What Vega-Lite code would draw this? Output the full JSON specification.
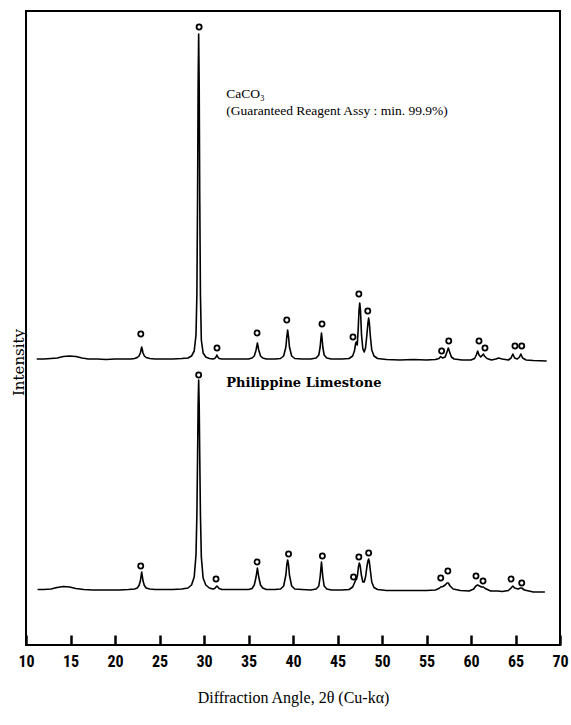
{
  "$schema": "https://vega.github.io/schema/vega-lite/v6.json",
  "width": 534,
  "height": 634,
  "autosize": {"type": "none"},
  "padding": {"left": 26, "top": 11, "right": 11, "bottom": 80},
  "background": "white",
  "config": {
    "view": {"stroke": "black", "strokeWidth": 2},
    "axis": {"grid": false}
  },
  "datasets": {
    "trace": [
      {"pattern": "CaCO3", "angle": 11.2, "intensity": 286},
      {"pattern": "CaCO3", "angle": 12.0, "intensity": 286},
      {"pattern": "CaCO3", "angle": 12.8, "intensity": 286.5},
      {"pattern": "CaCO3", "angle": 13.5, "intensity": 287},
      {"pattern": "CaCO3", "angle": 14.2, "intensity": 288.5},
      {"pattern": "CaCO3", "angle": 14.9, "intensity": 289},
      {"pattern": "CaCO3", "angle": 15.6, "intensity": 288.5},
      {"pattern": "CaCO3", "angle": 16.3, "intensity": 287},
      {"pattern": "CaCO3", "angle": 17.0, "intensity": 286},
      {"pattern": "CaCO3", "angle": 18.0, "intensity": 286},
      {"pattern": "CaCO3", "angle": 19.0, "intensity": 285.5},
      {"pattern": "CaCO3", "angle": 20.0, "intensity": 286},
      {"pattern": "CaCO3", "angle": 21.0, "intensity": 286},
      {"pattern": "CaCO3", "angle": 21.8, "intensity": 286},
      {"pattern": "CaCO3", "angle": 22.2, "intensity": 286.5},
      {"pattern": "CaCO3", "angle": 22.5, "intensity": 287.5},
      {"pattern": "CaCO3", "angle": 22.7, "intensity": 289},
      {"pattern": "CaCO3", "angle": 22.85, "intensity": 292},
      {"pattern": "CaCO3", "angle": 22.95, "intensity": 296},
      {"pattern": "CaCO3", "angle": 23.0, "intensity": 298},
      {"pattern": "CaCO3", "angle": 23.05, "intensity": 296},
      {"pattern": "CaCO3", "angle": 23.15, "intensity": 292},
      {"pattern": "CaCO3", "angle": 23.3, "intensity": 289},
      {"pattern": "CaCO3", "angle": 23.5, "intensity": 287.5},
      {"pattern": "CaCO3", "angle": 23.9, "intensity": 286.5},
      {"pattern": "CaCO3", "angle": 24.5, "intensity": 286},
      {"pattern": "CaCO3", "angle": 25.5, "intensity": 286},
      {"pattern": "CaCO3", "angle": 26.5, "intensity": 286},
      {"pattern": "CaCO3", "angle": 27.5, "intensity": 286.5},
      {"pattern": "CaCO3", "angle": 28.2, "intensity": 287},
      {"pattern": "CaCO3", "angle": 28.6, "intensity": 289},
      {"pattern": "CaCO3", "angle": 28.9, "intensity": 294},
      {"pattern": "CaCO3", "angle": 29.1, "intensity": 310},
      {"pattern": "CaCO3", "angle": 29.2, "intensity": 350},
      {"pattern": "CaCO3", "angle": 29.28, "intensity": 450},
      {"pattern": "CaCO3", "angle": 29.34, "intensity": 560},
      {"pattern": "CaCO3", "angle": 29.4, "intensity": 611},
      {"pattern": "CaCO3", "angle": 29.46, "intensity": 560},
      {"pattern": "CaCO3", "angle": 29.52, "intensity": 450},
      {"pattern": "CaCO3", "angle": 29.6, "intensity": 350},
      {"pattern": "CaCO3", "angle": 29.7, "intensity": 305},
      {"pattern": "CaCO3", "angle": 29.9, "intensity": 292},
      {"pattern": "CaCO3", "angle": 30.2, "intensity": 288},
      {"pattern": "CaCO3", "angle": 30.6, "intensity": 286.5},
      {"pattern": "CaCO3", "angle": 31.0, "intensity": 286},
      {"pattern": "CaCO3", "angle": 31.2, "intensity": 286.5},
      {"pattern": "CaCO3", "angle": 31.35, "intensity": 288},
      {"pattern": "CaCO3", "angle": 31.45, "intensity": 290},
      {"pattern": "CaCO3", "angle": 31.55, "intensity": 288},
      {"pattern": "CaCO3", "angle": 31.7, "intensity": 286.5},
      {"pattern": "CaCO3", "angle": 32.0, "intensity": 286},
      {"pattern": "CaCO3", "angle": 33.0, "intensity": 286},
      {"pattern": "CaCO3", "angle": 34.0, "intensity": 286},
      {"pattern": "CaCO3", "angle": 35.0, "intensity": 286},
      {"pattern": "CaCO3", "angle": 35.4, "intensity": 287},
      {"pattern": "CaCO3", "angle": 35.65, "intensity": 289},
      {"pattern": "CaCO3", "angle": 35.85, "intensity": 295},
      {"pattern": "CaCO3", "angle": 36.0, "intensity": 302},
      {"pattern": "CaCO3", "angle": 36.15, "intensity": 295},
      {"pattern": "CaCO3", "angle": 36.35, "intensity": 289},
      {"pattern": "CaCO3", "angle": 36.6, "intensity": 287},
      {"pattern": "CaCO3", "angle": 37.0, "intensity": 286},
      {"pattern": "CaCO3", "angle": 38.0, "intensity": 286},
      {"pattern": "CaCO3", "angle": 38.6, "intensity": 286.5},
      {"pattern": "CaCO3", "angle": 38.95, "intensity": 289},
      {"pattern": "CaCO3", "angle": 39.2, "intensity": 298},
      {"pattern": "CaCO3", "angle": 39.3, "intensity": 308},
      {"pattern": "CaCO3", "angle": 39.4, "intensity": 315},
      {"pattern": "CaCO3", "angle": 39.5, "intensity": 308},
      {"pattern": "CaCO3", "angle": 39.6, "intensity": 298},
      {"pattern": "CaCO3", "angle": 39.85, "intensity": 289},
      {"pattern": "CaCO3", "angle": 40.2, "intensity": 286.5},
      {"pattern": "CaCO3", "angle": 41.0, "intensity": 286},
      {"pattern": "CaCO3", "angle": 42.0, "intensity": 286},
      {"pattern": "CaCO3", "angle": 42.6, "intensity": 287},
      {"pattern": "CaCO3", "angle": 42.9, "intensity": 290},
      {"pattern": "CaCO3", "angle": 43.05, "intensity": 298},
      {"pattern": "CaCO3", "angle": 43.15, "intensity": 308},
      {"pattern": "CaCO3", "angle": 43.2, "intensity": 312},
      {"pattern": "CaCO3", "angle": 43.25, "intensity": 308},
      {"pattern": "CaCO3", "angle": 43.35, "intensity": 298},
      {"pattern": "CaCO3", "angle": 43.5, "intensity": 290},
      {"pattern": "CaCO3", "angle": 43.8, "intensity": 287},
      {"pattern": "CaCO3", "angle": 44.3, "intensity": 286},
      {"pattern": "CaCO3", "angle": 45.5, "intensity": 286},
      {"pattern": "CaCO3", "angle": 46.3, "intensity": 286.5},
      {"pattern": "CaCO3", "angle": 46.7, "intensity": 289},
      {"pattern": "CaCO3", "angle": 46.9, "intensity": 294},
      {"pattern": "CaCO3", "angle": 47.05, "intensity": 302},
      {"pattern": "CaCO3", "angle": 47.12, "intensity": 303},
      {"pattern": "CaCO3", "angle": 47.22, "intensity": 300},
      {"pattern": "CaCO3", "angle": 47.32, "intensity": 315},
      {"pattern": "CaCO3", "angle": 47.42, "intensity": 335},
      {"pattern": "CaCO3", "angle": 47.5, "intensity": 342},
      {"pattern": "CaCO3", "angle": 47.58, "intensity": 335},
      {"pattern": "CaCO3", "angle": 47.7, "intensity": 310},
      {"pattern": "CaCO3", "angle": 47.85, "intensity": 296},
      {"pattern": "CaCO3", "angle": 48.0, "intensity": 293},
      {"pattern": "CaCO3", "angle": 48.15, "intensity": 297},
      {"pattern": "CaCO3", "angle": 48.3, "intensity": 310},
      {"pattern": "CaCO3", "angle": 48.42, "intensity": 322},
      {"pattern": "CaCO3", "angle": 48.5, "intensity": 327},
      {"pattern": "CaCO3", "angle": 48.58, "intensity": 322},
      {"pattern": "CaCO3", "angle": 48.7, "intensity": 308},
      {"pattern": "CaCO3", "angle": 48.85, "intensity": 295},
      {"pattern": "CaCO3", "angle": 49.1, "intensity": 289},
      {"pattern": "CaCO3", "angle": 49.5, "intensity": 286.5},
      {"pattern": "CaCO3", "angle": 50.5, "intensity": 285.5},
      {"pattern": "CaCO3", "angle": 52.0, "intensity": 285},
      {"pattern": "CaCO3", "angle": 53.5, "intensity": 285.5},
      {"pattern": "CaCO3", "angle": 55.0, "intensity": 285},
      {"pattern": "CaCO3", "angle": 56.0, "intensity": 285.5},
      {"pattern": "CaCO3", "angle": 56.4, "intensity": 286.5},
      {"pattern": "CaCO3", "angle": 56.6, "intensity": 288.5},
      {"pattern": "CaCO3", "angle": 56.8, "intensity": 287},
      {"pattern": "CaCO3", "angle": 57.1, "intensity": 288},
      {"pattern": "CaCO3", "angle": 57.3, "intensity": 293},
      {"pattern": "CaCO3", "angle": 57.45, "intensity": 297},
      {"pattern": "CaCO3", "angle": 57.6, "intensity": 293},
      {"pattern": "CaCO3", "angle": 57.8, "intensity": 288},
      {"pattern": "CaCO3", "angle": 58.1, "intensity": 286},
      {"pattern": "CaCO3", "angle": 59.0, "intensity": 285},
      {"pattern": "CaCO3", "angle": 60.0, "intensity": 285},
      {"pattern": "CaCO3", "angle": 60.4, "intensity": 286.5},
      {"pattern": "CaCO3", "angle": 60.6, "intensity": 290},
      {"pattern": "CaCO3", "angle": 60.75, "intensity": 294},
      {"pattern": "CaCO3", "angle": 60.9, "intensity": 290},
      {"pattern": "CaCO3", "angle": 61.1, "intensity": 288},
      {"pattern": "CaCO3", "angle": 61.3, "intensity": 290},
      {"pattern": "CaCO3", "angle": 61.4, "intensity": 291},
      {"pattern": "CaCO3", "angle": 61.5, "intensity": 289},
      {"pattern": "CaCO3", "angle": 61.8, "intensity": 286.5},
      {"pattern": "CaCO3", "angle": 62.3, "intensity": 285},
      {"pattern": "CaCO3", "angle": 62.8, "intensity": 286},
      {"pattern": "CaCO3", "angle": 63.1, "intensity": 287},
      {"pattern": "CaCO3", "angle": 63.5, "intensity": 286},
      {"pattern": "CaCO3", "angle": 64.2, "intensity": 285},
      {"pattern": "CaCO3", "angle": 64.5, "intensity": 287},
      {"pattern": "CaCO3", "angle": 64.7, "intensity": 291},
      {"pattern": "CaCO3", "angle": 64.9, "intensity": 287},
      {"pattern": "CaCO3", "angle": 65.2, "intensity": 286},
      {"pattern": "CaCO3", "angle": 65.45, "intensity": 288},
      {"pattern": "CaCO3", "angle": 65.6, "intensity": 291},
      {"pattern": "CaCO3", "angle": 65.8, "intensity": 287},
      {"pattern": "CaCO3", "angle": 66.2, "intensity": 285},
      {"pattern": "CaCO3", "angle": 67.0, "intensity": 284.5},
      {"pattern": "CaCO3", "angle": 68.5, "intensity": 284},

      {"pattern": "Limestone", "angle": 11.3, "intensity": 55.5},
      {"pattern": "Limestone", "angle": 12.0, "intensity": 55.5},
      {"pattern": "Limestone", "angle": 12.8, "intensity": 56},
      {"pattern": "Limestone", "angle": 13.5, "intensity": 57.5},
      {"pattern": "Limestone", "angle": 14.2, "intensity": 58.5},
      {"pattern": "Limestone", "angle": 14.9, "intensity": 58},
      {"pattern": "Limestone", "angle": 15.6, "intensity": 56.5},
      {"pattern": "Limestone", "angle": 16.5, "intensity": 55.5},
      {"pattern": "Limestone", "angle": 17.5, "intensity": 55},
      {"pattern": "Limestone", "angle": 18.5, "intensity": 55},
      {"pattern": "Limestone", "angle": 19.5, "intensity": 55},
      {"pattern": "Limestone", "angle": 20.5, "intensity": 55},
      {"pattern": "Limestone", "angle": 21.5, "intensity": 55.5},
      {"pattern": "Limestone", "angle": 22.2, "intensity": 56},
      {"pattern": "Limestone", "angle": 22.5, "intensity": 57},
      {"pattern": "Limestone", "angle": 22.7, "intensity": 59.5},
      {"pattern": "Limestone", "angle": 22.85, "intensity": 64},
      {"pattern": "Limestone", "angle": 22.95, "intensity": 70},
      {"pattern": "Limestone", "angle": 23.0, "intensity": 73},
      {"pattern": "Limestone", "angle": 23.05, "intensity": 70},
      {"pattern": "Limestone", "angle": 23.15, "intensity": 64},
      {"pattern": "Limestone", "angle": 23.3, "intensity": 59.5},
      {"pattern": "Limestone", "angle": 23.5, "intensity": 57},
      {"pattern": "Limestone", "angle": 23.9, "intensity": 56},
      {"pattern": "Limestone", "angle": 24.5, "intensity": 55.5},
      {"pattern": "Limestone", "angle": 25.5, "intensity": 55.5},
      {"pattern": "Limestone", "angle": 26.5, "intensity": 55.5},
      {"pattern": "Limestone", "angle": 27.5, "intensity": 56},
      {"pattern": "Limestone", "angle": 28.2, "intensity": 57},
      {"pattern": "Limestone", "angle": 28.6, "intensity": 60},
      {"pattern": "Limestone", "angle": 28.9, "intensity": 68},
      {"pattern": "Limestone", "angle": 29.1, "intensity": 90},
      {"pattern": "Limestone", "angle": 29.2, "intensity": 130},
      {"pattern": "Limestone", "angle": 29.28, "intensity": 190},
      {"pattern": "Limestone", "angle": 29.34, "intensity": 240},
      {"pattern": "Limestone", "angle": 29.4, "intensity": 265},
      {"pattern": "Limestone", "angle": 29.46, "intensity": 240},
      {"pattern": "Limestone", "angle": 29.52, "intensity": 190},
      {"pattern": "Limestone", "angle": 29.6, "intensity": 130},
      {"pattern": "Limestone", "angle": 29.7, "intensity": 88},
      {"pattern": "Limestone", "angle": 29.9, "intensity": 67},
      {"pattern": "Limestone", "angle": 30.2, "intensity": 60},
      {"pattern": "Limestone", "angle": 30.6, "intensity": 57},
      {"pattern": "Limestone", "angle": 31.0, "intensity": 56},
      {"pattern": "Limestone", "angle": 31.2, "intensity": 56.5},
      {"pattern": "Limestone", "angle": 31.35, "intensity": 58},
      {"pattern": "Limestone", "angle": 31.45, "intensity": 59},
      {"pattern": "Limestone", "angle": 31.55, "intensity": 58},
      {"pattern": "Limestone", "angle": 31.7, "intensity": 56.5},
      {"pattern": "Limestone", "angle": 32.0, "intensity": 55.5},
      {"pattern": "Limestone", "angle": 33.0, "intensity": 55.5},
      {"pattern": "Limestone", "angle": 34.0, "intensity": 55.5},
      {"pattern": "Limestone", "angle": 35.0, "intensity": 55.5},
      {"pattern": "Limestone", "angle": 35.4, "intensity": 56.5},
      {"pattern": "Limestone", "angle": 35.65, "intensity": 60},
      {"pattern": "Limestone", "angle": 35.85, "intensity": 68},
      {"pattern": "Limestone", "angle": 36.0, "intensity": 77},
      {"pattern": "Limestone", "angle": 36.15, "intensity": 68},
      {"pattern": "Limestone", "angle": 36.35, "intensity": 60},
      {"pattern": "Limestone", "angle": 36.6, "intensity": 57},
      {"pattern": "Limestone", "angle": 37.0, "intensity": 55.5},
      {"pattern": "Limestone", "angle": 38.0, "intensity": 55.5},
      {"pattern": "Limestone", "angle": 38.6, "intensity": 56},
      {"pattern": "Limestone", "angle": 38.95, "intensity": 59},
      {"pattern": "Limestone", "angle": 39.2, "intensity": 70},
      {"pattern": "Limestone", "angle": 39.3, "intensity": 80},
      {"pattern": "Limestone", "angle": 39.4, "intensity": 85},
      {"pattern": "Limestone", "angle": 39.5, "intensity": 80},
      {"pattern": "Limestone", "angle": 39.6, "intensity": 70},
      {"pattern": "Limestone", "angle": 39.85, "intensity": 59},
      {"pattern": "Limestone", "angle": 40.2, "intensity": 56},
      {"pattern": "Limestone", "angle": 41.0, "intensity": 55.5},
      {"pattern": "Limestone", "angle": 42.0, "intensity": 55},
      {"pattern": "Limestone", "angle": 42.6, "intensity": 56},
      {"pattern": "Limestone", "angle": 42.9, "intensity": 59},
      {"pattern": "Limestone", "angle": 43.05, "intensity": 68},
      {"pattern": "Limestone", "angle": 43.15, "intensity": 78},
      {"pattern": "Limestone", "angle": 43.2, "intensity": 83},
      {"pattern": "Limestone", "angle": 43.25, "intensity": 78},
      {"pattern": "Limestone", "angle": 43.35, "intensity": 68},
      {"pattern": "Limestone", "angle": 43.5, "intensity": 59},
      {"pattern": "Limestone", "angle": 43.8, "intensity": 56},
      {"pattern": "Limestone", "angle": 44.3, "intensity": 55},
      {"pattern": "Limestone", "angle": 45.5, "intensity": 55},
      {"pattern": "Limestone", "angle": 46.3, "intensity": 55.5},
      {"pattern": "Limestone", "angle": 46.7, "intensity": 58},
      {"pattern": "Limestone", "angle": 46.9, "intensity": 62},
      {"pattern": "Limestone", "angle": 47.05, "intensity": 65},
      {"pattern": "Limestone", "angle": 47.15, "intensity": 66},
      {"pattern": "Limestone", "angle": 47.25, "intensity": 70},
      {"pattern": "Limestone", "angle": 47.35, "intensity": 78},
      {"pattern": "Limestone", "angle": 47.45, "intensity": 82},
      {"pattern": "Limestone", "angle": 47.55, "intensity": 79},
      {"pattern": "Limestone", "angle": 47.68, "intensity": 70},
      {"pattern": "Limestone", "angle": 47.85, "intensity": 63},
      {"pattern": "Limestone", "angle": 48.0, "intensity": 63},
      {"pattern": "Limestone", "angle": 48.15, "intensity": 68},
      {"pattern": "Limestone", "angle": 48.3, "intensity": 78},
      {"pattern": "Limestone", "angle": 48.42, "intensity": 84},
      {"pattern": "Limestone", "angle": 48.5, "intensity": 86},
      {"pattern": "Limestone", "angle": 48.58, "intensity": 83},
      {"pattern": "Limestone", "angle": 48.7, "intensity": 74},
      {"pattern": "Limestone", "angle": 48.85, "intensity": 63},
      {"pattern": "Limestone", "angle": 49.1, "intensity": 57.5},
      {"pattern": "Limestone", "angle": 49.5, "intensity": 55.5},
      {"pattern": "Limestone", "angle": 50.5, "intensity": 54.5},
      {"pattern": "Limestone", "angle": 52.0, "intensity": 54.5},
      {"pattern": "Limestone", "angle": 53.5, "intensity": 54.5},
      {"pattern": "Limestone", "angle": 55.0, "intensity": 54.5},
      {"pattern": "Limestone", "angle": 56.0, "intensity": 55},
      {"pattern": "Limestone", "angle": 56.4, "intensity": 56.5},
      {"pattern": "Limestone", "angle": 56.6, "intensity": 58},
      {"pattern": "Limestone", "angle": 56.85, "intensity": 58.5},
      {"pattern": "Limestone", "angle": 57.1, "intensity": 60},
      {"pattern": "Limestone", "angle": 57.3, "intensity": 62},
      {"pattern": "Limestone", "angle": 57.45, "intensity": 62},
      {"pattern": "Limestone", "angle": 57.65, "intensity": 59},
      {"pattern": "Limestone", "angle": 58.0, "intensity": 56},
      {"pattern": "Limestone", "angle": 58.8, "intensity": 54.5},
      {"pattern": "Limestone", "angle": 59.8, "intensity": 54},
      {"pattern": "Limestone", "angle": 60.3, "intensity": 56},
      {"pattern": "Limestone", "angle": 60.55, "intensity": 59},
      {"pattern": "Limestone", "angle": 60.75, "intensity": 60},
      {"pattern": "Limestone", "angle": 60.95, "intensity": 59},
      {"pattern": "Limestone", "angle": 61.2, "intensity": 58},
      {"pattern": "Limestone", "angle": 61.4, "intensity": 58},
      {"pattern": "Limestone", "angle": 61.6, "intensity": 56.5},
      {"pattern": "Limestone", "angle": 62.2, "intensity": 54},
      {"pattern": "Limestone", "angle": 63.0, "intensity": 54},
      {"pattern": "Limestone", "angle": 63.5, "intensity": 53.5},
      {"pattern": "Limestone", "angle": 64.2, "intensity": 54.5},
      {"pattern": "Limestone", "angle": 64.5, "intensity": 57},
      {"pattern": "Limestone", "angle": 64.7, "intensity": 59},
      {"pattern": "Limestone", "angle": 64.9, "intensity": 57},
      {"pattern": "Limestone", "angle": 65.3, "intensity": 56},
      {"pattern": "Limestone", "angle": 65.55, "intensity": 57},
      {"pattern": "Limestone", "angle": 65.7, "intensity": 57},
      {"pattern": "Limestone", "angle": 66.0, "intensity": 55},
      {"pattern": "Limestone", "angle": 67.0, "intensity": 53},
      {"pattern": "Limestone", "angle": 68.3, "intensity": 53}
    ],
    "calcite_peaks": [
      {"pattern": "CaCO3", "angle": 22.9, "intensity": 311},
      {"pattern": "CaCO3", "angle": 29.45, "intensity": 618},
      {"pattern": "CaCO3", "angle": 31.46, "intensity": 297},
      {"pattern": "CaCO3", "angle": 35.96, "intensity": 312},
      {"pattern": "CaCO3", "angle": 39.3, "intensity": 325},
      {"pattern": "CaCO3", "angle": 43.26, "intensity": 321},
      {"pattern": "CaCO3", "angle": 46.74, "intensity": 308},
      {"pattern": "CaCO3", "angle": 47.4, "intensity": 351},
      {"pattern": "CaCO3", "angle": 48.4, "intensity": 334},
      {"pattern": "CaCO3", "angle": 56.7, "intensity": 294},
      {"pattern": "CaCO3", "angle": 57.5, "intensity": 304},
      {"pattern": "CaCO3", "angle": 60.9, "intensity": 304},
      {"pattern": "CaCO3", "angle": 61.57, "intensity": 297},
      {"pattern": "CaCO3", "angle": 64.94, "intensity": 299},
      {"pattern": "CaCO3", "angle": 65.7, "intensity": 299},
      {"pattern": "Limestone", "angle": 22.89, "intensity": 79},
      {"pattern": "Limestone", "angle": 29.4, "intensity": 270},
      {"pattern": "Limestone", "angle": 31.35, "intensity": 66},
      {"pattern": "Limestone", "angle": 35.96, "intensity": 83},
      {"pattern": "Limestone", "angle": 39.5, "intensity": 91},
      {"pattern": "Limestone", "angle": 43.3, "intensity": 89},
      {"pattern": "Limestone", "angle": 46.8, "intensity": 68},
      {"pattern": "Limestone", "angle": 47.4, "intensity": 88},
      {"pattern": "Limestone", "angle": 48.5, "intensity": 92},
      {"pattern": "Limestone", "angle": 56.6, "intensity": 67},
      {"pattern": "Limestone", "angle": 57.4, "intensity": 74},
      {"pattern": "Limestone", "angle": 60.56, "intensity": 69},
      {"pattern": "Limestone", "angle": 61.35, "intensity": 64},
      {"pattern": "Limestone", "angle": 64.5, "intensity": 66},
      {"pattern": "Limestone", "angle": 65.7, "intensity": 62}
    ],
    "reagent_caption": [
      {"label": "CaCO₃", "angle": 32.5, "intensity": 547},
      {"label": "(Guaranteed Reagent Assy : min. 99.9%)", "angle": 32.5, "intensity": 530}
    ],
    "limestone_caption": [
      {"label": "Philippine Limestone", "angle": 32.5, "intensity": 258}
    ]
  },
  "encoding": {
    "x": {
      "field": "angle",
      "type": "quantitative",
      "scale": {"domain": [10, 70], "nice": false, "zero": false},
      "axis": {
        "title": "Diffraction Angle, 2θ (Cu-kα)",
        "titleFont": "Liberation Serif",
        "titleFontSize": 16,
        "titleFontWeight": "normal",
        "titleColor": "black",
        "titleBaseline": "middle",
        "titleY": 62,
        "values": [10, 15, 20, 25, 30, 35, 40, 45, 50, 55, 60, 65, 70],
        "offset": -10,
        "domain": false,
        "ticks": true,
        "tickSize": 10,
        "tickWidth": 2.5,
        "tickColor": "black",
        "labelFont": "Liberation Sans Narrow, Roboto Condensed, Liberation Sans, sans-serif",
        "labelFontSize": 16,
        "labelFontWeight": "bold",
        "labelColor": "black",
        "labelPadding": 8,
        "labelFlush": false
      }
    },
    "y": {
      "field": "intensity",
      "type": "quantitative",
      "scale": {"domain": [0, 634], "nice": false, "zero": true},
      "axis": {
        "title": "Intensity",
        "titleFont": "DejaVu Serif",
        "titleFontSize": 15,
        "titleFontWeight": "normal",
        "titleColor": "black",
        "titleAngle": 270,
        "titleAlign": "center",
        "titleBaseline": "middle",
        "titleX": -8,
        "titleY": 351,
        "labels": false,
        "ticks": false,
        "domain": false
      }
    }
  },
  "layer": [
    {
      "data": {"name": "trace"},
      "mark": {"type": "line", "color": "black", "strokeWidth": 1.6, "strokeJoin": "round"},
      "encoding": {"detail": {"field": "pattern"}}
    },
    {
      "data": {"name": "calcite_peaks"},
      "mark": {"type": "point", "shape": "circle", "size": 26, "filled": false, "stroke": "black", "strokeWidth": 1.8, "fill": "white", "fillOpacity": 1, "opacity": 1}
    },
    {
      "data": {"name": "reagent_caption"},
      "mark": {"type": "text", "align": "left", "baseline": "alphabetic", "color": "black", "font": "Liberation Serif", "fontSize": 13.5},
      "encoding": {"text": {"field": "label"}}
    },
    {
      "data": {"name": "limestone_caption"},
      "mark": {"type": "text", "align": "left", "baseline": "alphabetic", "color": "black", "font": "DejaVu Serif", "fontSize": 13, "fontWeight": "bold"},
      "encoding": {"text": {"field": "label"}}
    }
  ]
}
